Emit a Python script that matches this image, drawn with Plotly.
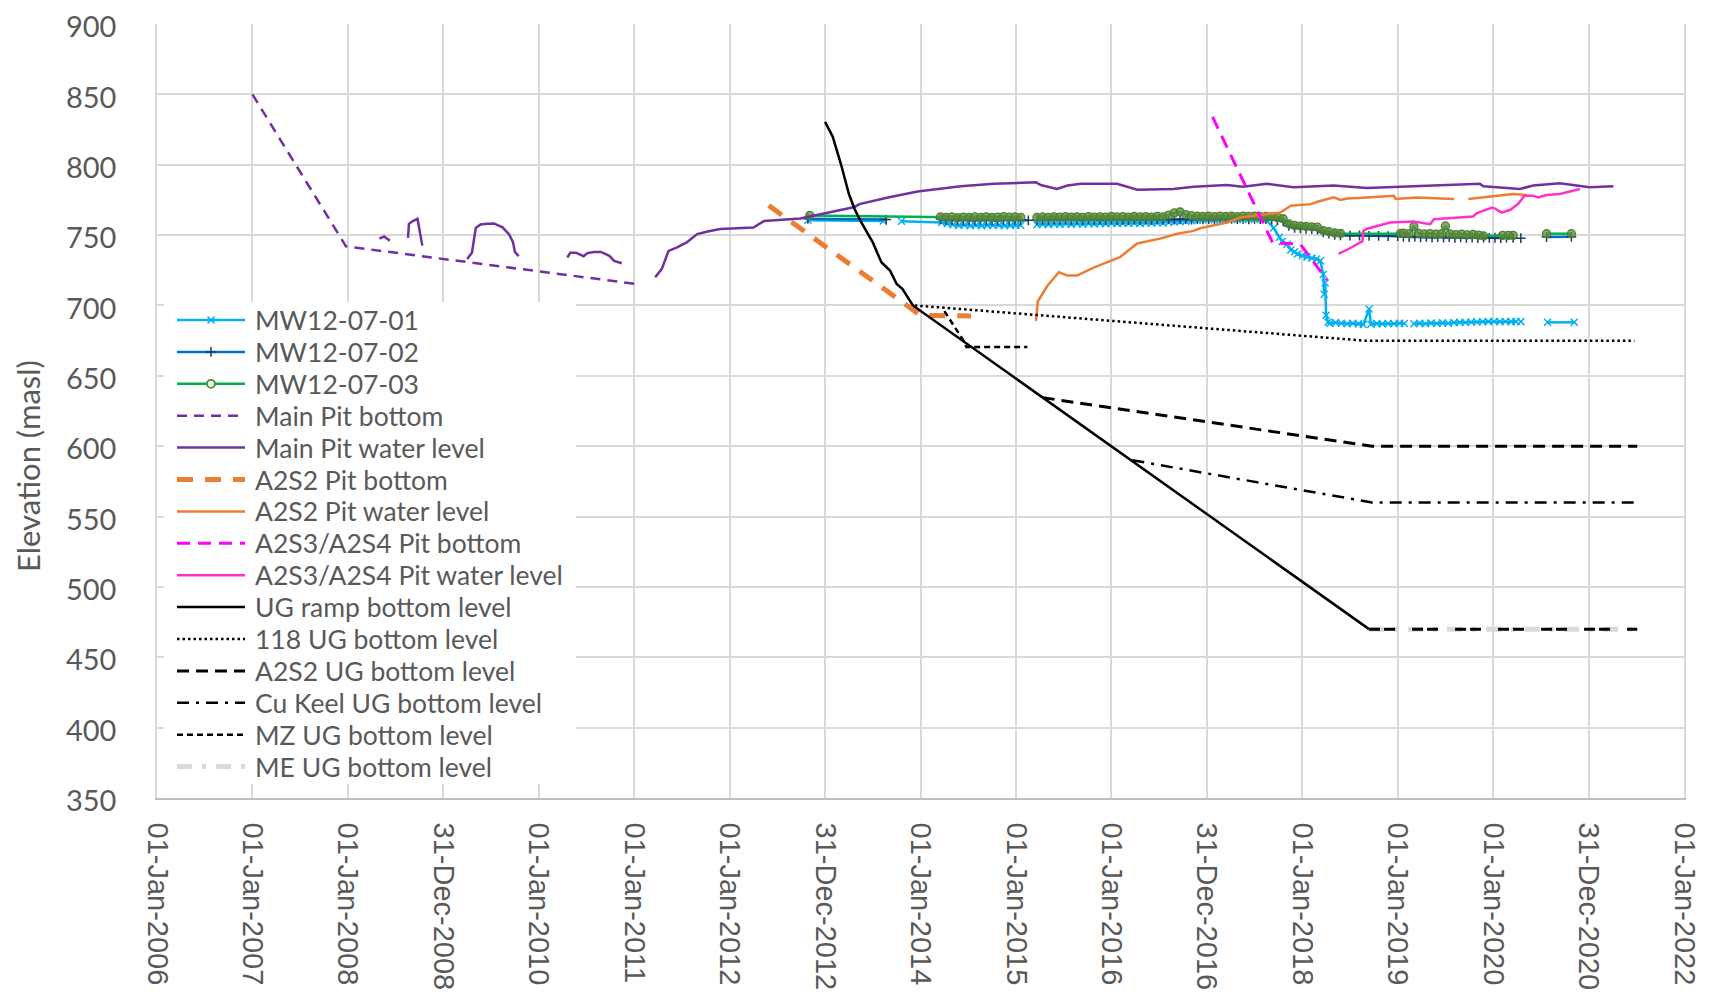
import datetime as dt
import plotly.graph_objects as go

BASE = dt.datetime(2006, 1, 1)


def d(t):
    # decimal year (Excel-style 365.25-day years from 01-Jan-2006) -> datetime
    return None if t is None else BASE + dt.timedelta(days=(t - 2006) * 365.25)


# ---------------- data (decimal year, elevation masl) ----------------
T_DENSE = [2015.22, 2015.28, 2015.34, 2015.40, 2015.46, 2015.52, 2015.58, 2015.64, 2015.70, 2015.76,
           2015.82, 2015.88, 2015.94, 2016.00, 2016.06, 2016.12, 2016.18, 2016.24, 2016.30, 2016.36,
           2016.42, 2016.48, 2016.54, 2016.60, 2016.66, 2016.72, 2016.78, 2016.84, 2016.90, 2016.96,
           2017.02, 2017.08, 2017.14, 2017.20, 2017.26, 2017.32, 2017.38, 2017.44, 2017.50, 2017.56,
           2017.62]

mw01_t = ([2012.82, 2013.61, None,
           2013.80, 2014.22, 2014.28, 2014.34, 2014.40, 2014.46, 2014.52, 2014.58, 2014.64, 2014.70,
           2014.76, 2014.82, 2014.88, 2014.94, 2015.00, 2015.05, None]
          + T_DENSE
          + [2017.70, 2017.76, 2017.79, 2017.84, 2017.88, 2017.92, 2017.95, 2018.00, 2018.05, 2018.10,
             2018.15, 2018.19, 2018.22, 2018.23, 2018.24, 2018.25, 2018.27, 2018.29, 2018.35, 2018.41,
             2018.47, 2018.53, 2018.59, 2018.64, 2018.70, 2018.72, 2018.78, 2018.84, 2018.90, 2018.96,
             2019.02, 2019.07, None,
             2019.17, 2019.23, 2019.29, 2019.35, 2019.41, 2019.47, 2019.53, 2019.59, 2019.65, 2019.71,
             2019.77, 2019.83, 2019.89, 2019.95, 2020.01, 2020.07, 2020.13, 2020.19, 2020.24, None,
             2020.29, None, 2020.57, 2020.85])
mw01_v = ([760.5, 760.0, None,
           759.8, 759.0, 758.0, 757.3, 756.9, 757.2, 756.6, 757.0, 756.7, 757.1,
           756.8, 757.0, 756.6, 756.9, 757.1, 757.0, None]
          + [757.4, 757.8, 757.3, 757.9, 757.5, 758.0, 757.6, 758.1, 757.7, 758.2,
             757.9, 758.3, 758.0, 758.4, 758.1, 758.5, 758.2, 758.6, 758.3, 758.7,
             758.5, 758.8, 758.6, 759.0, 759.3, 759.6, 759.9, 760.2, 760.6, 760.9,
             761.1, 760.9, 761.2, 761.0, 761.3, 761.1, 761.4, 761.2, 761.5, 761.3, 761.1]
          + [755.0, 748.5, 745.4, 743.5, 739.4, 738.2, 736.6, 735.3, 734.5, 733.6,
             733.0, 731.8, 722.0, 708.0, 716.0, 693.0, 688.0, 687.4, 687.8, 687.3,
             687.0, 687.4, 686.9, 686.4, 697.5, 686.6, 687.1, 686.9, 687.2, 687.0,
             687.3, 687.2, None,
             687.0, 687.3, 687.0, 687.5, 687.2, 687.6, 687.4, 687.8, 688.0, 687.9,
             688.2, 688.3, 688.4, 688.5, 688.6, 688.4, 688.6, 688.5, 688.5, None,
             688.5, None, 688.0, 688.0])

mw02_t = ([2012.82, 2013.64, None,
           2014.21, 2014.27, 2014.33, 2014.39, 2014.45, 2014.51, 2014.57, 2014.63, 2014.69, 2014.75,
           2014.81, 2014.87, 2014.93, 2014.99, 2015.05, 2015.13, None]
          + T_DENSE
          + [2017.68, 2017.74, 2017.80, 2017.86, 2017.92, 2017.98, 2018.04, 2018.10, 2018.16, 2018.22,
             2018.28, 2018.34, 2018.40, 2018.50, 2018.60, 2018.70, 2018.80, 2018.90, 2019.00,
             2019.06, 2019.12, 2019.18, 2019.24, 2019.30, 2019.36, 2019.42, 2019.48, 2019.54, 2019.60,
             2019.66, 2019.72, 2019.78, 2019.84, 2019.90, 2019.96, 2020.02, 2020.08, 2020.14, 2020.21,
             None, 2020.29, None, 2020.56, 2020.82])
mw02_v = ([761.6, 761.0, None,
           761.4, 760.9, 760.6, 760.8, 760.5, 760.7, 760.4, 760.8, 760.5, 760.7,
           760.4, 760.6, 760.5, 760.7, 760.6, 760.5, None]
          + [760.8, 761.0, 760.7, 761.1, 760.8, 761.2, 760.9, 761.1, 760.8, 761.2,
             760.9, 761.1, 760.8, 761.2, 760.9, 761.0, 760.8, 761.1, 760.9, 761.2,
             761.0, 761.1, 760.9, 761.3, 761.0, 761.2, 761.4, 761.0, 761.3, 761.1,
             761.4, 761.2, 761.5, 761.3, 761.6, 761.3, 761.5, 761.2, 761.6, 761.3, 761.4]
          + [761.0, 760.6, 759.8, 756.5, 755.2, 754.8, 754.5, 754.2, 753.9, 752.0,
             751.0, 750.2, 749.8, 749.6, 749.7, 749.4, 749.5, 749.3, 749.2,
             748.8, 748.6, 748.9, 748.4, 748.7, 748.3, 748.6, 748.2, 748.5, 748.1,
             748.4, 748.0, 748.3, 747.9, 748.2, 748.0, 748.1, 747.9, 748.2, 748.0,
             None, 747.8, None, 748.6, 748.8])

mw03_t = ([2012.84, 2014.21, 2014.27, 2014.33, 2014.39, 2014.45, 2014.51, 2014.57, 2014.63, 2014.69,
           2014.75, 2014.81, 2014.87, 2014.93, 2014.99, 2015.05, None]
          + T_DENSE
          + [2017.68, 2017.74, 2017.80, 2017.86, 2017.92, 2017.98, 2018.04, 2018.10, 2018.16, 2018.22,
             2018.28, 2018.34, 2018.40, 2019.03,
             2019.06, 2019.12, 2019.17, 2019.22, 2019.28, 2019.34, 2019.40, 2019.46, 2019.50, 2019.55,
             2019.61, 2019.67, 2019.73, 2019.79, 2019.85, 2019.90,
             2020.10, 2020.16, 2020.21, None, 2020.56, 2020.82])
mw03_v = ([764.0, 763.0, 762.6, 762.9, 762.4, 762.8, 762.5, 762.9, 762.6, 763.0,
           762.5, 762.8, 763.1, 762.7, 762.9, 762.6, None]
          + [762.5, 762.9, 762.6, 763.0, 762.7, 763.1, 762.8, 763.0, 762.6, 763.1,
             762.8, 763.0, 762.7, 763.2, 762.9, 763.1, 762.8, 763.2, 762.9, 763.1,
             762.8, 763.3, 763.0, 764.2, 765.8, 766.4, 764.6, 763.8, 763.4, 763.2,
             763.4, 763.1, 763.5, 763.2, 763.4, 763.1, 763.5, 763.3, 763.4, 763.1, 763.2]
          + [763.0, 762.4, 761.6, 758.0, 756.9, 756.4, 756.1, 755.9, 755.6, 753.2,
             752.4, 751.5, 751.2, 751.2,
             751.4, 751.0, 756.0, 751.2, 750.8, 751.1, 750.6, 751.0, 756.5, 750.8,
             750.4, 750.7, 750.2, 750.5, 750.0, 749.4,
             749.8, 749.8, 749.8, None, 751.0, 751.0])

main_bottom_t = [2007.00, 2007.98, 2011.05]
main_bottom_v = [850, 742, 715]

main_water_t = [2008.33, 2008.38, 2008.44, None,
                2008.63, 2008.64, 2008.68, 2008.73, 2008.78, None,
                2009.25, 2009.30, 2009.34, 2009.39, 2009.46, 2009.53, 2009.62, 2009.69, 2009.73, 2009.75,
                2009.79, None,
                2010.30, 2010.33, 2010.39, 2010.47, 2010.51, 2010.58, 2010.65, 2010.74, 2010.79, 2010.87,
                None,
                2011.22, 2011.29, 2011.36, 2011.45, 2011.55, 2011.66, 2011.77, 2011.90, 2012.25, 2012.36,
                2012.74, 2013.03, 2013.10, 2013.31, 2013.36, 2013.66, 2013.97, 2014.42, 2014.77, 2015.21,
                2015.26, 2015.43, 2015.54, 2015.68, 2016.06, 2016.27, 2016.65, 2016.86, 2017.21, 2017.38,
                2017.56, 2017.63, 2017.91, 2018.33, 2018.68, 2019.38, 2019.86, 2019.90, 2020.28, 2020.42,
                2020.70, 2021.01, 2021.26]
main_water_v = [747.5, 749.0, 746.0, None,
                748.0, 758.0, 760.0, 761.5, 742.5, None,
                733.0, 737.5, 755.0, 757.5, 758.0, 758.3, 755.5, 750.5, 745.0, 738.0,
                735.0, None,
                734.0, 737.5, 737.5, 735.0, 737.2, 738.0, 738.0, 735.3, 731.7, 730.0,
                None,
                720.0, 726.0, 738.8, 741.2, 744.8, 750.7, 752.6, 754.3, 755.4, 760.0,
                761.8, 765.6, 767.0, 770.0, 772.0, 776.7, 781.0, 784.7, 786.4, 787.6,
                785.6, 782.8, 785.2, 786.4, 786.4, 782.3, 782.8, 784.4, 785.6, 784.4,
                785.9, 786.4, 784.0, 785.2, 783.5, 785.2, 786.4, 784.7, 782.8, 785.2,
                786.8, 784.0, 784.7]

a2s2_bottom_t = [2012.41, 2013.94, 2014.00, 2014.53]
a2s2_bottom_v = [771, 696.5, 693, 692.5]

a2s2_water_t = [2015.21, 2015.23, 2015.33, 2015.45, 2015.54, 2015.64, 2015.82, 2016.02, 2016.09, 2016.27,
                2016.51, 2016.69, 2016.86, 2016.94, 2017.21, 2017.35, 2017.56, 2017.77, 2017.88, 2018.09,
                2018.16, 2018.33, 2018.40, 2018.47, 2018.68, 2018.96, 2018.98, 2019.20, 2019.59, None,
                2019.74, 2020.00, 2020.21, 2020.35]
a2s2_water_v = [689.0, 703.0, 714.0, 723.6, 721.2, 721.2, 727.0, 732.0, 734.3, 744.0,
                747.5, 751.0, 753.0, 755.0, 759.0, 762.5, 764.0, 766.0, 770.8, 772.0,
                773.7, 776.8, 775.0, 776.0, 776.8, 778.0, 775.6, 776.8, 775.6, None,
                775.6, 777.5, 779.2, 778.5]

a2s3_bottom_t = [2017.06, 2017.69, 2017.98, 2018.26]
a2s3_bottom_v = [834, 744.5, 743.5, 718]

a2s3_water_t = [2018.38, 2018.51, 2018.63, 2018.64, 2018.68, 2018.92, 2019.17, 2019.34, 2019.38, 2019.79,
                2019.83, 2019.92, 2019.99, 2020.02, 2020.09, 2020.18, 2020.26, 2020.33, 2020.42, 2020.47,
                2020.56, 2020.70, 2020.91]
a2s3_water_v = [736.6, 741.0, 745.7, 752.9, 754.5, 758.9, 759.6, 757.7, 761.2, 763.2,
                765.6, 768.0, 769.6, 768.8, 766.0, 768.0, 772.0, 778.0, 778.0, 776.8,
                778.5, 779.2, 782.8]

ug_ramp_t = [2013.00, 2013.08, 2013.17, 2013.25, 2013.31, 2013.38, 2013.50, 2013.59, 2013.68, 2013.75,
             2013.81, 2013.92, 2018.70]
ug_ramp_v = [830.5, 820.0, 799.5, 779.2, 768.4, 759.0, 744.8, 730.7, 724.8, 715.3,
             711.8, 700.0, 470.0]

ug118_t = [2013.94, 2018.65, 2021.48]
ug118_v = [700, 675, 675]

a2s2_ug_t = [2015.28, 2018.73, 2021.51]
a2s2_ug_v = [634.5, 600, 600]

cukeel_t = [2016.22, 2018.73, 2021.51]
cukeel_v = [590, 560, 560]

mz_t = [2014.25, 2014.41, 2014.46, 2014.48, 2015.12]
mz_v = [696, 679, 674, 670.5, 670.5]

me_t = [2018.70, 2021.51]
me_v = [470, 470]

y_ticks = [350, 400, 450, 500, 550, 600, 650, 700, 750, 800, 850, 900]

# ---------------- styles ----------------
STYLES = {
    "MW12-07-01": dict(mode="lines+markers", line=dict(color="#00B0F0", width=2.5),
                       marker=dict(symbol="x-thin", size=7, color="#00B0F0",
                                   line=dict(color="#00B0F0", width=1.5))),
    "MW12-07-02": dict(mode="lines+markers", line=dict(color="#0070C0", width=2.5),
                       marker=dict(symbol="cross-thin", size=7, color="#1F3864",
                                   line=dict(color="#1F3864", width=1.5))),
    "MW12-07-03": dict(mode="lines+markers", line=dict(color="#00B050", width=2.5),
                       marker=dict(symbol="circle", size=8, color="rgba(96,140,60,0.75)",
                                   line=dict(color="#4E7F2E", width=1.3))),
    "Main Pit bottom": dict(mode="lines", line=dict(color="#7030A0", width=2.5, dash="10px,7px")),
    "Main Pit water level": dict(mode="lines", line=dict(color="#7030A0", width=2.5)),
    "A2S2 Pit bottom": dict(mode="lines", line=dict(color="#ED7D31", width=5, dash="16px,12px")),
    "A2S2 Pit water level": dict(mode="lines", line=dict(color="#ED7D31", width=2.5)),
    "A2S3/A2S4 Pit bottom": dict(mode="lines", line=dict(color="#FF00FF", width=3, dash="13px,8px")),
    "A2S3/A2S4 Pit water level": dict(mode="lines", line=dict(color="#FF33CC", width=2.5)),
    "UG ramp bottom level": dict(mode="lines", line=dict(color="black", width=2.5)),
    "118 UG bottom level": dict(mode="lines", line=dict(color="black", width=2.5, dash="2.5px,3px")),
    "A2S2 UG bottom level": dict(mode="lines", line=dict(color="black", width=3, dash="12px,7px")),
    "Cu Keel UG bottom level": dict(mode="lines", line=dict(color="black", width=2.5,
                                                            dash="12px,7px,3px,7px")),
    "MZ UG bottom level": dict(mode="lines", line=dict(color="black", width=2.5, dash="6px,4px")),
    "ME UG bottom level": dict(mode="lines", line=dict(color="#D9D9D9", width=5,
                                                       dash="15px,10px,4px,10px")),
}

# legend-only marker look for MW12-07-03 (open circle)
LEGEND_MARKER = {
    "MW12-07-03": dict(symbol="circle", size=8, color="rgba(255,255,255,0.9)",
                       line=dict(color="#4E8F2E", width=1.8)),
}

series = [
    ("MW12-07-01", mw01_t, mw01_v),
    ("MW12-07-02", mw02_t, mw02_v),
    ("MW12-07-03", mw03_t, mw03_v),
    ("Main Pit bottom", main_bottom_t, main_bottom_v),
    ("Main Pit water level", main_water_t, main_water_v),
    ("A2S2 Pit bottom", a2s2_bottom_t, a2s2_bottom_v),
    ("A2S2 Pit water level", a2s2_water_t, a2s2_water_v),
    ("A2S3/A2S4 Pit bottom", a2s3_bottom_t, a2s3_bottom_v),
    ("A2S3/A2S4 Pit water level", a2s3_water_t, a2s3_water_v),
    ("UG ramp bottom level", ug_ramp_t, ug_ramp_v),
    ("118 UG bottom level", ug118_t, ug118_v),
    ("A2S2 UG bottom level", a2s2_ug_t, a2s2_ug_v),
    ("Cu Keel UG bottom level", cukeel_t, cukeel_v),
    ("MZ UG bottom level", mz_t, mz_v),
    ("ME UG bottom level", me_t, me_v),
]

fig = go.Figure()

for name, t, v in series:
    fig.add_trace(go.Scatter(x=[d(a) for a in t], y=v, name=name, showlegend=False,
                             hoverinfo="x+y+name", **STYLES[name]))
    if name == "ME UG bottom level":
        # black dashes drawn over the grey ME line
        fig.add_trace(go.Scatter(x=[d(a) for a in t], y=v, mode="lines", showlegend=False,
                                 line=dict(color="black", width=3, dash="11px,4px,11px,17px"),
                                 hoverinfo="skip"))

# ---------------- legend (drawn in page-pixel space on an overlay axis) ----------------
PAGE_PAD = 8  # body margin of the html page
PX_L, PX_R, PX_T, PX_B = 157, 1684, 24, 798
LEG_X0, LEG_X1, LEG_TX = 177, 245, 253
LEG_Y0, LEG_DY = 320, 31.9
BOX_L, BOX_R, BOX_T, BOX_B = 164, 576, 302, 784


def dom_x(px):
    return (px - PX_L) / (PX_R - PX_L)


def dom_y(px):
    return (PX_B - px) / (PX_B - PX_T)


# white legend box (covers the gridlines underneath)
fig.add_trace(go.Scatter(x=[BOX_L, BOX_R, BOX_R, BOX_L, BOX_L], y=[BOX_T, BOX_T, BOX_B, BOX_B, BOX_T],
                         mode="lines", fill="toself", fillcolor="white", line=dict(width=0, color="white"),
                         xaxis="x2", yaxis="y2", showlegend=False, hoverinfo="skip"))

for i, (name, t, v) in enumerate(series):
    yc = LEG_Y0 + i * LEG_DY
    st = STYLES[name]
    fig.add_trace(go.Scatter(x=[LEG_X0, LEG_X1], y=[yc, yc], mode="lines", line=st["line"],
                             xaxis="x2", yaxis="y2", showlegend=False, hoverinfo="skip"))
    if "markers" in st["mode"]:
        fig.add_trace(go.Scatter(x=[(LEG_X0 + LEG_X1) / 2], y=[yc], mode="markers",
                                 marker=LEGEND_MARKER.get(name, st["marker"]),
                                 xaxis="x2", yaxis="y2", showlegend=False, hoverinfo="skip"))
    fig.add_annotation(x=LEG_TX, y=yc, xref="x2", yref="y2", text=name, showarrow=False,
                       xanchor="left", yanchor="middle",
                       font=dict(family="Lato", size=26.5, color="#595959"))

# ---------------- axes ----------------
tick_dates = [BASE + dt.timedelta(days=365.25 * n) for n in range(17)]
tick_text = [td.strftime("%d-%b-%Y") for td in tick_dates]

fig.add_annotation(text="Elevation (masl)", xref="paper", yref="paper",
                   x=dom_x(28), y=dom_y(466),
                   textangle=-90, showarrow=False, xanchor="center", yanchor="middle",
                   font=dict(family="Lato", size=31, color="#595959"))

fig.update_layout(
    width=1716, height=1000,
    margin=dict(l=PX_L - PAGE_PAD, r=1716 - PX_R + PAGE_PAD, t=PX_T - PAGE_PAD, b=1000 - PX_B + PAGE_PAD,
                autoexpand=False),
    plot_bgcolor="white", paper_bgcolor="white",
    showlegend=False,
    xaxis=dict(type="date", range=[tick_dates[0], tick_dates[-1]],
               tickmode="array", tickvals=tick_dates, ticktext=tick_text, tickangle=90,
               tickfont=dict(family="Liberation Sans", size=29, color="#595959"),
               showgrid=True, gridcolor="#D9D9D9", gridwidth=1.5,
               showline=True, linecolor="#BFBFBF", linewidth=1.5, automargin=False,
               zeroline=False, ticks="", ticklabelstandoff=17, ticklabeloverflow="allow"),
    yaxis=dict(range=[350, 900], tickmode="array", tickvals=y_ticks,
               tickfont=dict(family="Lato", size=29, color="#595959"),
               showgrid=True, gridcolor="#D9D9D9", gridwidth=1.5, automargin=False,
               showline=True, mirror=True, linecolor="#D9D9D9", linewidth=1.5,
               zeroline=False, ticks="", ticklabelstandoff=33, ticklabelshift=3,
               ticklabeloverflow="allow"),
    xaxis2=dict(overlaying="x", anchor="y2", range=[PX_L, PX_R], visible=False),
    yaxis2=dict(overlaying="y", anchor="x2", range=[PX_B, PX_T], visible=False),
)

fig.write_html("out.html")
